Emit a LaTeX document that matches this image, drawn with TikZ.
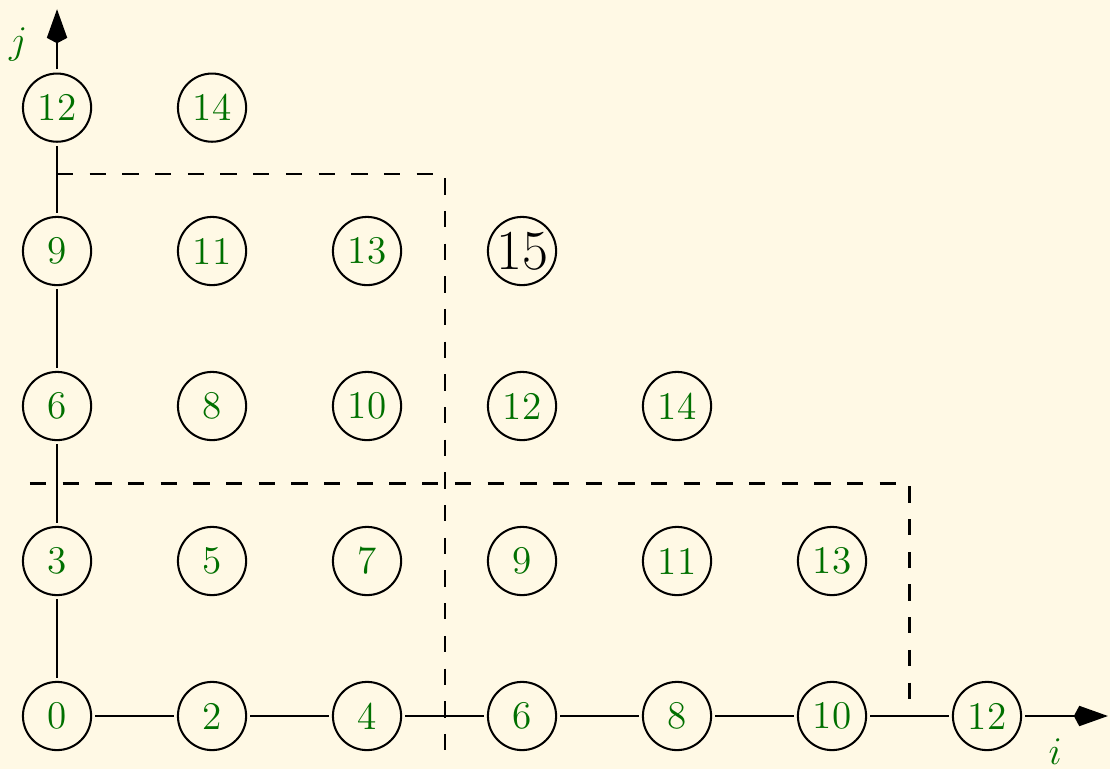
\documentclass[tikz,border=0pt]{standalone}
\usepackage{tikz}
\usepackage{xcolor}
\usetikzlibrary{arrows.meta}
\definecolor{creambg}{RGB}{255,249,229}
\definecolor{sumgreen}{RGB}{0,112,0}

\begin{document}
\begin{tikzpicture}[line width=0.75pt,
    cell/.style={circle, draw, minimum size=0.88cm, inner sep=0pt, outer sep=1.5pt, text=sumgreen, font=\Large},
    cut/.style={dash pattern=on 6pt off 6pt},
    axis/.style={-{Kite[length=12.5pt, width=7.5pt, inset=2pt]}}]
    \fill[creambg] (-0.736,-0.684) rectangle (13.587,9.239);
    % cells, value 2i+3j
    \foreach \j/\n/\y in {0/6/0, 1/5/2, 2/4/4, 3/2/6, 4/1/7.85} {
      \foreach \i in {0,...,\n} {
        \pgfmathtruncatemacro{\v}{2*\i+3*\j}
        \node[cell] (n-\i-\j) at (2*\i,\y) {\v};
      }
    }
    \node[cell, text=black, font=\huge] (n-3-3) at (6,6) {15};
    % axes
    \coordinate (jtip) at (0,9.12);
    \coordinate (itip) at (13.56,0);
    \draw[axis] (n-0-0) -- (n-0-1) -- (n-0-2) -- (n-0-3) -- (n-0-4) -- (jtip);
    \draw[axis] (n-0-0) -- (n-1-0) -- (n-2-0) -- (n-3-0) -- (n-4-0) -- (n-5-0) -- (n-6-0) -- (itip);
    \node[text=sumgreen, font=\Large] (jlab) at (-0.5,8.66) {$j$};
    \node[text=sumgreen, font=\Large] (ilab) at (12.88,-0.46) {$i$};
    % blocks
    \draw[cut] (0,7) -- (5,7) -- (5,-0.5);
    \draw[cut] (-0.35,3) -- (11,3) -- (11,0);
\end{tikzpicture}
\end{document}
